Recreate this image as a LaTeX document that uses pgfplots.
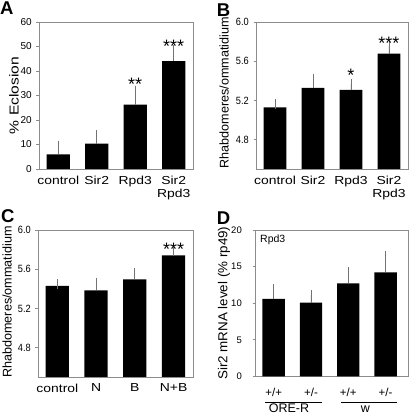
\documentclass[border=0pt]{standalone}
\usepackage{fontspec}
\setmainfont{Liberation Sans}
\newfontfamily\widefont[FakeStretch=1.2]{Liberation Sans}
\newfontfamily\narrowfont[FakeStretch=0.88]{Liberation Sans}
\newfontfamily\dfont[FakeStretch=1.03]{Liberation Sans}
\usepackage{pgfplots}
\pgfplotsset{compat=1.18}
\definecolor{errgray}{gray}{0.45}
\definecolor{framegray}{gray}{0.55}
\pgfplotsset{
  panel/.style={
    scale only axis,
    ybar, bar width=0.6,
    axis line style={framegray, line width=0.8pt},
    xtick={0,1,2,3},
    xmin=-0.5, xmax=3.5,
    x tick style={draw=none},
    y tick style={framegray, line width=0.8pt},
    ytick pos=left, tick align=outside, major tick length=2.5pt,
    /pgf/number format/assume math mode=true,
    yticklabel style={inner sep=0pt, xshift=-4.5pt},
    xticklabel style={inner sep=0pt, yshift=-4.2pt, align=center},
    ylabel style={anchor=center},
    error bars/y dir=plus, error bars/y explicit,
    error bars/error bar style={errgray, line width=0.8pt},
    error bars/error mark options={errgray, line width=0.8pt, mark size=5pt},
  },
  abc/.style={
    yticklabel style={font=\fontsize{10}{10}\selectfont},
    xticklabel style={font=\widefont\fontsize{11.6}{12.7}\selectfont},
  },
}
\tikzset{starnode/.style={anchor=base, inner sep=0pt, font=\fontsize{18}{18}\selectfont}}
\begin{document}
\begin{tikzpicture}
\useasboundingbox (0pt,0pt) rectangle (410pt,413pt);
% Panel A
\begin{axis}[panel, abc, at={(39pt,244pt)}, anchor=south west, width=154pt, height=147pt,
  ymin=0, ymax=60, ytick={0,10,20,30,40,50,60}, clip=false,
  xticklabels={control,Sir2,Rpd3,{Sir2\\Rpd3}},
  ylabel={\% Eclosion}, ylabel style={at={(rel axis cs:-0.162,0.5)}, font=\widefont\fontsize{13}{13}\selectfont}]
\addplot[fill=black, draw=none] coordinates {
 (0,6.0) +- (0,3.4)
 (1,10.4) +- (0,3.3)
 (2,26.3) +- (0,5.7)
 (3,44.0) +- (0,4.7)
};
\node[starnode] at (axis cs:2,31.9) {**};
\node[starnode] at (axis cs:3,47.4) {***};
\end{axis}
% Panel B
\begin{axis}[panel, abc, at={(256pt,244pt)}, anchor=south west, width=152pt, height=147pt,
  ymin=4.5, ymax=6.0, ytick={4.8,5.2,5.6,6.0}, clip=true,
  yticklabel style={font=\narrowfont\fontsize{10.5}{10.5}\selectfont, /pgf/number format/.cd, fixed, fixed zerofill, precision=1},
  xticklabels={control,Sir2,Rpd3,{Sir2\\Rpd3}},
  ylabel={Rhabdomeres/ommatidium}, ylabel style={at={(rel axis cs:-0.21,0.52)}, font=\fontsize{12.6}{12.6}\selectfont}]
\addplot[fill=black, draw=none] coordinates {
 (0,5.13) +- (0,0.034)
 (1,5.327) +- (0,0.093)
 (2,5.307) +- (0,0.063)
 (3,5.677) +- (0,0.083)
};
\node[starnode] at (axis cs:2,5.392) {*};
\node[starnode] at (axis cs:3,5.715) {***};
\end{axis}
% Panel C
\begin{axis}[panel, abc, at={(38pt,36pt)}, anchor=south west, width=155pt, height=147pt,
  ymin=4.5, ymax=6.0, ytick={4.8,5.2,5.6,6.0}, clip=true,
  yticklabel style={font=\narrowfont\fontsize{10.5}{10.5}\selectfont, /pgf/number format/.cd, fixed, fixed zerofill, precision=1},
  xticklabels={control,N,B,N+B},
  ylabel={Rhabdomeres/ommatidium}, ylabel style={at={(rel axis cs:-0.2,0.51)}, font=\fontsize{12.6}{12.6}\selectfont}]
\addplot[fill=black, draw=none] coordinates {
 (0,5.43) +- (0,0.02)
 (1,5.383) +- (0,0.077)
 (2,5.496) +- (0,0.064)
 (3,5.74) +- (0,0.044)
};
\node[starnode] at (axis cs:3,5.739) {***};
\end{axis}
% Panel D
\begin{axis}[panel, at={(255pt,36.5pt)}, anchor=south west, width=153pt, height=146.5pt,
  xmin=-0.5, xmax=3.6,
  ymin=0, ymax=20, ytick={0,5,10,15,20}, clip=false,
  yticklabel style={xshift=-6pt, font=\fontsize{9.5}{9.5}\selectfont},
  xticklabel style={yshift=-4.3pt, font=\fontsize{11.5}{11.5}\selectfont},
  xticklabels={+/+,+/-,+/+,+/-},
  ylabel={Sir2 mRNA level (\% rp49)}, ylabel style={at={(rel axis cs:-0.203,0.5)}, font=\dfont\fontsize{13}{13}\selectfont}]
\addplot[fill=black, draw=none] coordinates {
 (0,10.6) +- (0,1.4)
 (1,10.1) +- (0,1.0)
 (2,12.7) +- (0,1.5)
 (3,14.2) +- (0,2.2)
};
\draw[black, line width=0.8pt] ([yshift=-26pt]axis cs:-0.23,0) -- ([yshift=-26pt]axis cs:1.29,0);
\draw[black, line width=0.8pt] ([yshift=-26pt]axis cs:1.80,0) -- ([yshift=-26pt]axis cs:3.31,0);
\node[anchor=base, inner sep=0pt, font=\fontsize{12.5}{12.5}\selectfont] at ([yshift=-35.5pt]axis cs:0.41,0) {ORE-R};
\node[anchor=base, inner sep=0pt, font=\fontsize{12.5}{12.5}\selectfont] at ([yshift=-35.5pt]axis cs:2.46,0) {w};
\node[anchor=west, inner sep=0pt, font=\fontsize{10.5}{10.5}\selectfont] at ([xshift=5pt]rel axis cs:0,0.932) {Rpd3};
\end{axis}
% Panel letters
\begin{scope}[every node/.style={anchor=north west, inner sep=0pt, font=\bfseries\fontsize{18.5}{18.5}\selectfont}]
\node at (0pt,411.3pt) {A};
\node at (216.7pt,409pt) {B};
\node at (1pt,204pt) {C};
\node at (216.7pt,201.3pt) {D};
\end{scope}
\end{tikzpicture}
\end{document}
